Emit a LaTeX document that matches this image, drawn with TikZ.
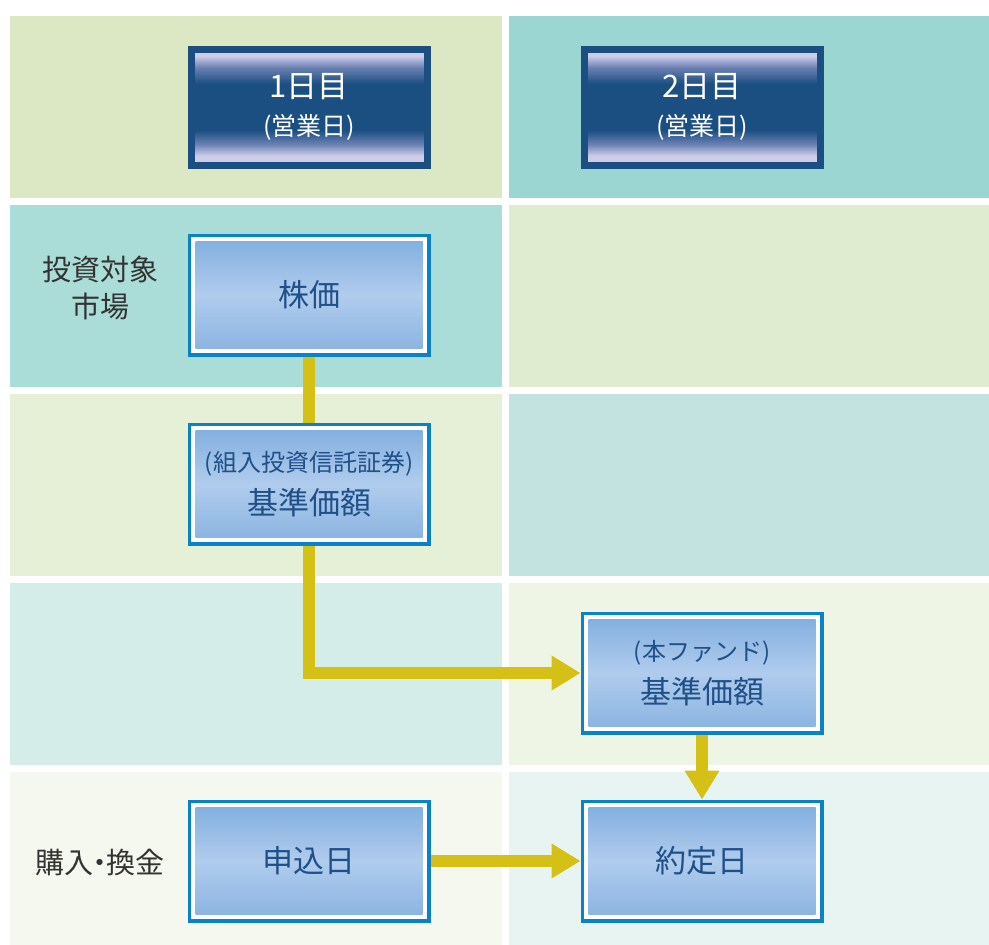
\documentclass[tikz,border=0pt]{standalone}
\usepackage{fontspec}
\setmainfont{Noto Sans CJK JP}
\usetikzlibrary{arrows.meta}

\definecolor{headcellL}{HTML}{DBE8C3}
\definecolor{headcellR}{HTML}{9BD6D3}
\definecolor{marketL}{HTML}{ABDDD8}
\definecolor{marketR}{HTML}{E0ECD0}
\definecolor{navL}{HTML}{E6F0D6}
\definecolor{navR}{HTML}{C2E3E0}
\definecolor{fundL}{HTML}{D5EDE9}
\definecolor{fundR}{HTML}{EEF5E4}
\definecolor{tradeL}{HTML}{F5F8EE}
\definecolor{tradeR}{HTML}{E8F4F2}
\definecolor{headdark}{HTML}{1B4F82}
\definecolor{headmid}{HTML}{6A80B2}
\definecolor{headedge}{HTML}{CDCDEA}
\definecolor{boxblue}{HTML}{0A82C8}
\definecolor{boxtop}{HTML}{7FADDE}
\definecolor{boxmid}{HTML}{B0CCED}
\definecolor{boxbot}{HTML}{88B2E0}
\definecolor{boxtext}{HTML}{1F5088}
\definecolor{sidetext}{HTML}{333333}
\definecolor{flowyellow}{HTML}{D5C116}

\pgfdeclareverticalshading{headshade}{100bp}{color(0bp)=(headedge); color(25bp)=(headedge); color(29bp)=(headedge); color(34bp)=(headmid); color(40bp)=(headdark); color(60bp)=(headdark); color(67bp)=(headmid); color(72bp)=(headedge); color(75bp)=(headedge); color(100bp)=(headedge)}

\tikzset{
  daybox/.style={minimum width=236pt, minimum height=116pt, draw=headdark, line width=7pt,
    fill=headdark, text=white, align=center, inner sep=0pt,
    path picture={\shade[shading=headshade] (path picture bounding box.north west) rectangle (path picture bounding box.south east);}},
  pricebox/.style={minimum width=239.5pt, minimum height=119.5pt, draw=boxblue, line width=3.5pt,
    fill=white, text=boxtext, align=center, inner sep=0pt, font=\fontsize{31}{38}\selectfont,
    path picture={\shade[top color=boxtop, bottom color=boxbot, middle color=boxmid]
      ([shift={(6.25pt,-6.25pt)}]path picture bounding box.north west) rectangle ([shift={(-6.25pt,6.25pt)}]path picture bounding box.south east);}},
  sidelabel/.style={text=sidetext, align=center, font=\fontsize{29}{37}\selectfont},
  flowline/.style={draw=flowyellow, line width=12pt},
  flowarrow/.style={flowline, -{Triangle[length=29pt,width=33pt]}}
}

\begin{document}
\begin{tikzpicture}[x=1pt,y=-1pt]
  \useasboundingbox (0,0) rectangle (989,945);
  \fill[headcellL] (10,16) rectangle (502,198);
  \fill[headcellR] (509,16) rectangle (989,198);
  \fill[marketL] (10,205) rectangle (502,387);
  \fill[marketR] (509,205) rectangle (989,387);
  \fill[navL] (10,394) rectangle (502,576);
  \fill[navR] (509,394) rectangle (989,576);
  \fill[fundL] (10,583) rectangle (502,765);
  \fill[fundR] (509,583) rectangle (989,765);
  \fill[tradeL] (10,772) rectangle (502,945);
  \fill[tradeR] (509,772) rectangle (989,945);

  \node[daybox] (day1) at (309,107) {{\fontsize{31}{31}\selectfont 1日目}\\[13pt]{\fontsize{25}{25}\selectfont (営業日)}};
  \node[daybox] (day2) at (702,107) {{\fontsize{31}{31}\selectfont 2日目}\\[13pt]{\fontsize{25}{25}\selectfont (営業日)}};

  \node[sidelabel] (market) at (100,288) {投資対象\\市場};
  \node[sidelabel] (trade) at (100,862) {購入\hspace{-8pt}・\hspace{-8pt}換金};

  \node[pricebox] (kabuka) at (309,295) {株価};
  \node[pricebox] (kijun) at (309,484) {{\fontsize{24}{24}\selectfont (組入投資信託証券)}\\[5pt]基準価額};
  \node[pricebox] (fund) at (702,673) {{\fontsize{24}{24}\selectfont (本ファンド)}\\[5pt]基準価額};
  \node[pricebox] (moushikomi) at (309,861) {申込日};
  \node[pricebox] (yakujo) at (702,861) {約定日};

  \draw[flowline] (kabuka) -- (kijun);
  \draw[flowarrow] (kijun) |- (fund);
  \draw[flowarrow] (fund) -- (yakujo);
  \draw[flowarrow] (moushikomi) -- (yakujo);
\end{tikzpicture}
\end{document}
